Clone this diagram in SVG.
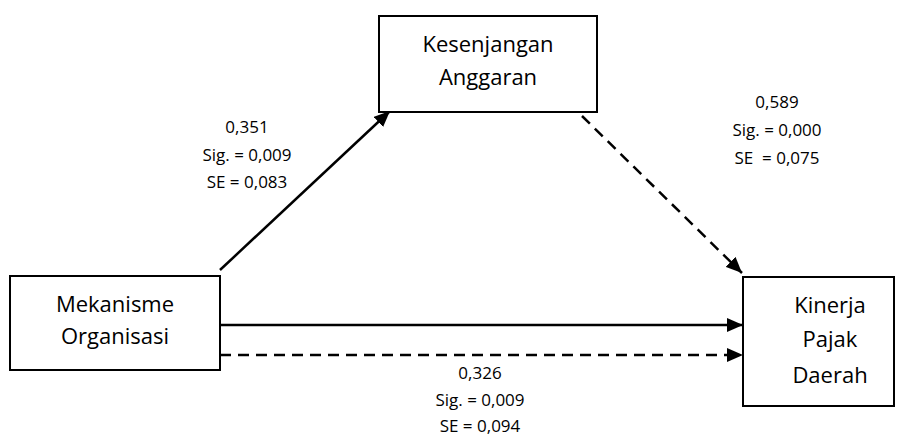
<svg xmlns="http://www.w3.org/2000/svg" width="904" height="438" viewBox="0 0 904 438">
  <style>
    .box { fill: #ffffff; stroke: #000000; stroke-width: 2; }
    .name { font-family: "Open Sans", "Noto Sans", sans-serif; font-size: 22px; fill: #000000; text-anchor: middle; }
    .coef { font-family: "Open Sans", "Noto Sans", sans-serif; font-size: 17px; fill: #000000; text-anchor: middle; }
    .line { stroke: #000000; stroke-width: 2.5; fill: none; }
    .dash { stroke-dasharray: 11 7; }
  </style>
  <defs>
    <marker id="head" viewBox="0 0 16 14" refX="16" refY="7" markerWidth="16" markerHeight="14" markerUnits="userSpaceOnUse" orient="auto">
      <path d="M0,0 L16,7 L0,14 z" fill="#000000"/>
    </marker>
  </defs>

  <g id="connectors">
    <line class="line" x1="220" y1="270" x2="390" y2="111" marker-end="url(#head)"/>
    <line class="line dash" x1="582" y1="116" x2="742" y2="273" marker-end="url(#head)"/>
    <line class="line" x1="220" y1="325" x2="743" y2="325" marker-end="url(#head)"/>
    <line class="line dash" x1="220" y1="355" x2="743" y2="355" marker-end="url(#head)"/>
  </g>

  <g id="node-kesenjangan">
    <rect class="box" x="379" y="16" width="218" height="96"/>
    <text class="name" x="488" y="52">Kesenjangan</text>
    <text class="name" x="488" y="85">Anggaran</text>
  </g>

  <g id="node-mekanisme">
    <rect class="box" x="10" y="276" width="210" height="94"/>
    <text class="name" x="115" y="312">Mekanisme</text>
    <text class="name" x="115" y="344">Organisasi</text>
  </g>

  <g id="node-kinerja">
    <rect class="box" x="743" y="277" width="151" height="129"/>
    <text class="name" x="830" y="313">Kinerja</text>
    <text class="name" x="830" y="347">Pajak</text>
    <text class="name" x="830" y="383">Daerah</text>
  </g>

  <g id="label-a">
    <text class="coef" x="247" y="133">0,351</text>
    <text class="coef" x="247" y="161">Sig. = 0,009</text>
    <text class="coef" x="247" y="188">SE = 0,083</text>
  </g>

  <g id="label-b">
    <text class="coef" x="777" y="108">0,589</text>
    <text class="coef" x="777" y="136">Sig. = 0,000</text>
    <text class="coef" x="777" y="164" xml:space="preserve">SE  = 0,075</text>
  </g>

  <g id="label-c">
    <text class="coef" x="480" y="379">0,326</text>
    <text class="coef" x="480" y="406">Sig. = 0,009</text>
    <text class="coef" x="480" y="432">SE = 0,094</text>
  </g>
</svg>
